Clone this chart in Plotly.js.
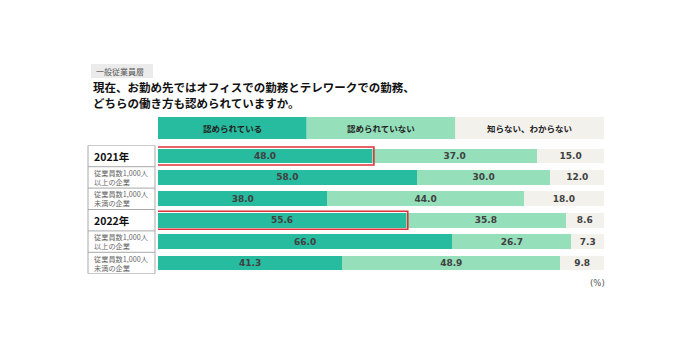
<!DOCTYPE html>
<html>
<head>
<meta charset="utf-8">
<script src="https://cdn.plot.ly/plotly-3.0.1.min.js"></script>
<style>html,body{margin:0;padding:0;background:#fff;}#chart{width:700px;height:350px;}</style>
</head>
<body>
<div id="chart"></div>
<script>
// ---- data ----
const rowLabels = ["2021年", "従業員数1,000人<br>以上の企業", "従業員数1,000人<br>未満の企業", "2022年", "従業員数1,000人<br>以上の企業", "従業員数1,000人<br>未満の企業"];
const rowBold = [true, false, false, true, false, false];
const seriesNames = ["認められている", "認められていない", "知らない、わからない"];
const recognized = [48.0, 58.0, 38.0, 55.6, 66.0, 41.3];
const notRecognized = [37.0, 30.0, 44.0, 35.8, 26.7, 48.9];
const unknown = [15.0, 12.0, 18.0, 8.6, 7.3, 9.8];
const highlightRows = [0, 3];
const subtitleText = "一般従業員層";
const titleLines = ["現在、お勤め先ではオフィスでの勤務とテレワークでの勤務、", "どちらの働き方も認められていますか。"];
const unitText = "(%)";

// ---- style ----
const colors = ["#27bb9f", "#95dfbb", "#f3f1ec"];
const jp = '"Noto Sans CJK JP", "Noto Sans", sans-serif';
const num = '"DejaVu Sans", Verdana, sans-serif';
const yIdx = rowLabels.map((_, i) => i);
const seriesVals = [recognized, notRecognized, unknown];

const traces = seriesVals.map((vals, k) => ({
  type: "bar",
  orientation: "h",
  name: seriesNames[k],
  x: vals,
  y: yIdx,
  width: 0.7,
  marker: { color: colors[k], line: { width: 0 } },
  text: vals.map(v => "<b>" + v.toFixed(1) + "</b>"),
  textposition: "inside",
  insidetextanchor: "middle",
  textangle: 0,
  textfont: { family: num, size: 9, color: "#404040" },
  constraintext: "none",
  hoverinfo: "skip",
  showlegend: false
}));

const px = v => v / 700;
const shapes = [];
const annotations = [];

// header cells
seriesNames.forEach((n, k) => {
  shapes.push({ type: "rect", xref: "x", yref: "paper", x0: k * 100 / 3, x1: (k + 1) * 100 / 3,
    y0: 1 - 139 / 350, y1: 1 - 117 / 350, fillcolor: colors[k], line: { width: 0 }, layer: "below" });
  annotations.push({ xref: "x", yref: "paper", x: (k + 0.5) * 100 / 3, y: 1 - 128 / 350,
    text: "<b>" + n + "</b>", showarrow: false, xanchor: "center", yanchor: "middle",
    font: { family: jp, size: 8.5, color: "#222" } });
});

// left table
const tl = px(88), tr = px(155);
for (let i = 0; i <= rowLabels.length; i++) {
  shapes.push({ type: "line", xref: "paper", yref: "y", x0: tl, x1: tr, y0: i - 0.5, y1: i - 0.5,
    line: { color: "#a8a8a8", width: 1 } });
}
[tl, tr].forEach(x => shapes.push({ type: "line", xref: "paper", yref: "y", x0: x, x1: x,
  y0: -0.5, y1: rowLabels.length - 0.5, line: { color: "#a8a8a8", width: 1 } }));

rowLabels.forEach((lab, i) => {
  annotations.push({ xref: "paper", yref: "y", x: px(92), y: i, xanchor: "left", yanchor: "middle",
    text: rowBold[i] ? "<b>" + lab + "</b>" : lab, showarrow: false, align: "left",
    font: rowBold[i] ? { family: jp, size: 10.5, color: "#111" } : { family: jp, size: 7.2, color: "#666" } });
});

// highlight rectangles
highlightRows.forEach(i => {
  shapes.push({ type: "rect", xref: "x", yref: "y", x0: -0.3, x1: recognized[i] + 0.4,
    y0: i - 0.42, y1: i + 0.42, line: { color: "#e0303a", width: 1.6 }, fillcolor: "rgba(0,0,0,0)" });
});

// subtitle box
shapes.push({ type: "rect", xref: "paper", yref: "paper", x0: px(91), x1: px(153), y0: 1 - 78 / 350, y1: 1 - 64 / 350,
  fillcolor: "#ebebeb", line: { width: 0 } });
annotations.push({ xref: "paper", yref: "paper", x: px(94), y: 1 - 71 / 350, xanchor: "left", yanchor: "middle",
  text: subtitleText, showarrow: false, font: { family: jp, size: 8, color: "#555" } });

titleLines.forEach((t, j) => {
  annotations.push({ xref: "paper", yref: "paper", x: px(91), y: 1 - (87 + j * 16) / 350, xanchor: "left", yanchor: "middle",
    text: "<b>" + t + "</b>", showarrow: false, font: { family: jp, size: 11.5, color: "#111" } });
});

annotations.push({ xref: "paper", yref: "paper", x: px(597), y: 1 - 283 / 350, xanchor: "center", yanchor: "middle",
  text: unitText, showarrow: false, font: { family: num, size: 8.5, color: "#555" } });

const layout = {
  width: 700, height: 350,
  margin: { l: 0, r: 0, t: 0, b: 0 },
  paper_bgcolor: "#fff", plot_bgcolor: "rgba(0,0,0,0)",
  barmode: "stack",
  bargap: 0,
  uniformtext: { mode: false },
  xaxis: { domain: [158 / 700, 604 / 700], range: [0, 100], visible: false, fixedrange: true },
  yaxis: { domain: [1 - 273.7 / 350, 1 - 145.3 / 350], range: [rowLabels.length - 0.5, -0.5], visible: false, fixedrange: true },
  shapes: shapes,
  annotations: annotations,
  showlegend: false
};

Plotly.newPlot("chart", traces, layout, { displayModeBar: false, staticPlot: true });
</script>
</body>
</html>
